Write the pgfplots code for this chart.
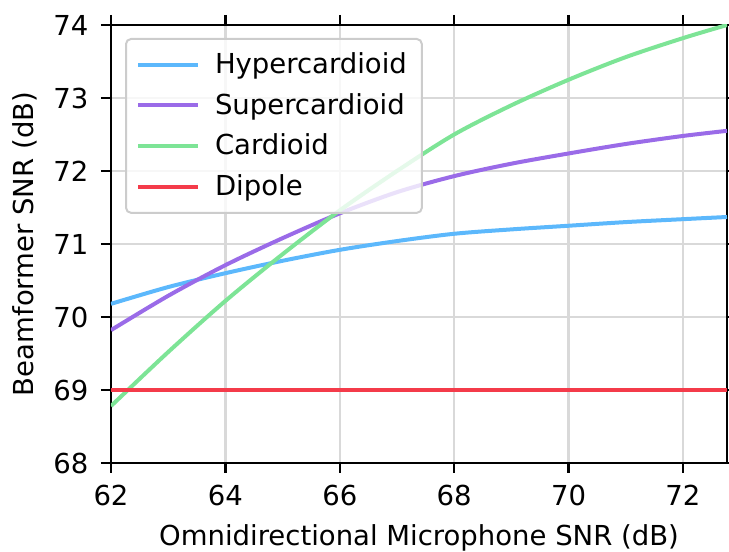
\documentclass[border=0pt]{standalone}
\usepackage{fontspec}
\setmainfont{DejaVu Sans}
\usepackage{pgfplots}
\pgfplotsset{compat=1.18}
\definecolor{chyper}{HTML}{5CB8FC}
\definecolor{csuper}{HTML}{9A6BE8}
\definecolor{ccard}{HTML}{7DE496}
\definecolor{cdip}{HTML}{F43B4A}
\begin{document}
\begin{tikzpicture}
\begin{axis}[
  scale only axis,
  width=246.4pt, height=175.2pt,
  xmin=62, xmax=72.77, ymin=68, ymax=74,
  xtick={62,64,...,72}, ytick={68,69,...,74},
  /pgf/number format/assume math mode=true,
  tick label style={font=\fontsize{11}{13}\selectfont},
  label style={font=\fontsize{11}{13}\selectfont},
  xticklabel style={yshift=-1.5pt},
  yticklabel style={xshift=-1.5pt},
  xlabel style={yshift=-0.6pt},
  ylabel style={yshift=-0.3pt},
  grid=major,
  grid style={color=black!15, line width=0.9pt},
  tick align=outside,
  major tick length=4pt,
  tick style={black, line width=0.9pt},
  axis line style={line width=0.9pt},
  xlabel={Omnidirectional Microphone SNR (dB)},
  ylabel={Beamformer SNR (dB)},
  legend cell align=left,
  legend style={at={(axis description cs:0,1)}, anchor=north west,
    xshift=5.6pt, yshift=-5.2pt,
    fill=white, fill opacity=0.8, text opacity=1, draw opacity=1,
    draw=black!20, rounded corners=2pt, line width=0.8pt,
    font=\fontsize{11}{13}\selectfont, row sep=2.5pt,
    inner xsep=4pt, inner ysep=3.3pt,
    nodes={inner sep=2pt}},
  legend image code/.code={\draw[#1] (0pt,0pt) -- (24pt,0pt);},
  /tikz/every odd column/.append style={column sep=4pt},
  every axis plot/.append style={line width=1.6pt},
]
\coordinate (sw) at (rel axis cs:0,0);
\coordinate (ne) at (rel axis cs:1,1);
\addplot[chyper, smooth] coordinates {
(62,70.18) (63,70.41) (64,70.60) (65,70.77) (66,70.92) (67,71.04) (68,71.14) (69,71.20) (70,71.25) (71,71.30) (72,71.34) (72.77,71.37)};
\addlegendentry{Hypercardioid}
\addplot[csuper, smooth] coordinates {
(62,69.82) (63,70.29) (64,70.71) (65,71.08) (66,71.42) (67,71.71) (68,71.93) (69,72.10) (70,72.24) (71,72.37) (72,72.48) (72.77,72.55)};
\addlegendentry{Supercardioid}
\addplot[ccard, smooth] coordinates {
(62,68.78) (63,69.52) (64,70.22) (65,70.86) (66,71.46) (67,72.00) (68,72.50) (69,72.90) (70,73.25) (71,73.56) (72,73.82) (72.77,74.00)};
\addlegendentry{Cardioid}
\addplot[cdip] coordinates {(62,69) (72.77,69)};
\addlegendentry{Dipole}
\end{axis}
\pgfresetboundingbox
\useasboundingbox ([xshift=-44.4pt,yshift=-35.6pt]sw) rectangle ([xshift=0.8pt,yshift=10pt]ne);
\end{tikzpicture}
\end{document}
